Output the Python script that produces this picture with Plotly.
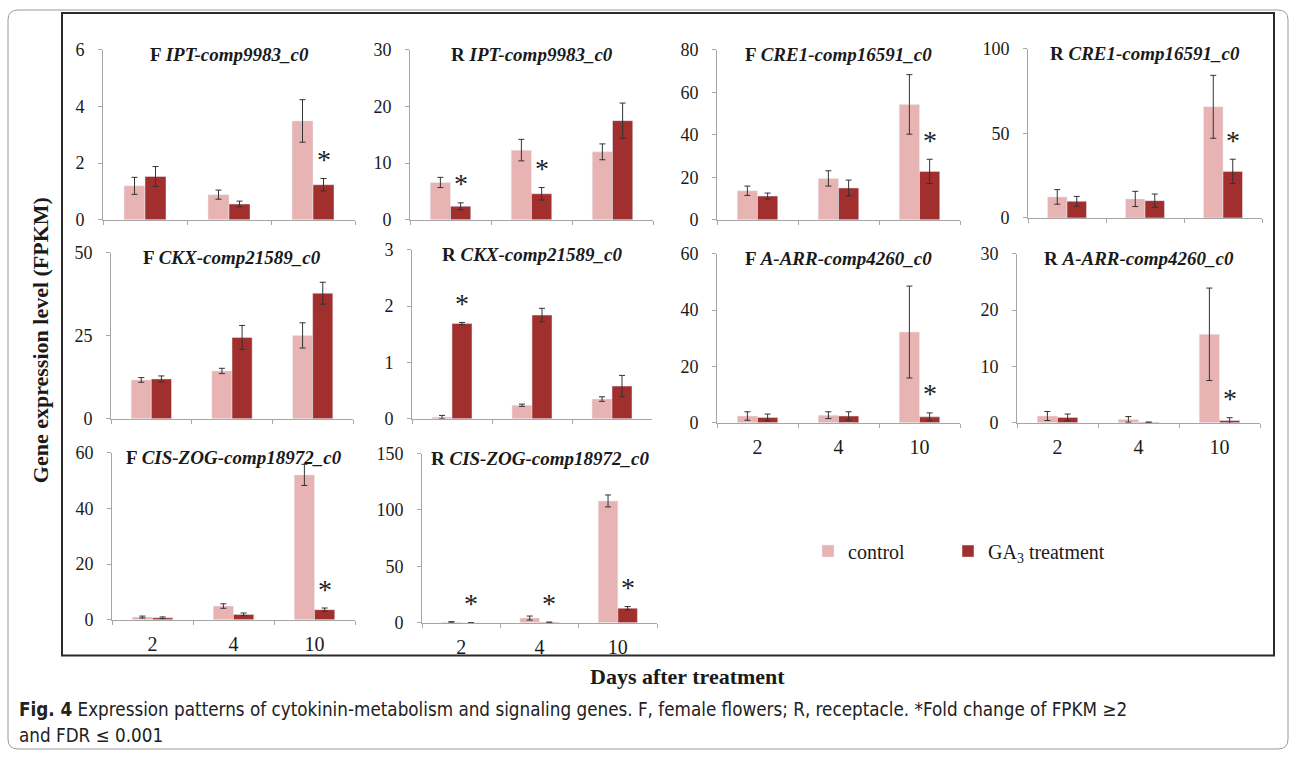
import plotly.graph_objects as go

W, H = 1295, 760
SERIF = "Liberation Serif, Times New Roman, serif"

days = ["2", "4", "10"]
series_names = ["control", "GA<sub>3</sub> treatment"]

# ---- data (FPKM means, error, significance of GA3 vs control) ----
f_ipt_ctrl = [1.20, 0.89, 3.49]
f_ipt_ctrl_err = [0.30, 0.16, 0.75]
f_ipt_ga3 = [1.53, 0.56, 1.24]
f_ipt_ga3_err = [0.35, 0.10, 0.22]
f_ipt_sig = [0, 0, 1]

r_ipt_ctrl = [6.6, 12.3, 12.0]
r_ipt_ctrl_err = [0.9, 1.9, 1.4]
r_ipt_ga3 = [2.4, 4.6, 17.5]
r_ipt_ga3_err = [0.6, 1.1, 3.1]
r_ipt_sig = [1, 1, 0]

f_cre1_ctrl = [13.7, 19.5, 54.3]
f_cre1_ctrl_err = [2.2, 3.6, 14.0]
f_cre1_ga3 = [11.2, 15.0, 22.8]
f_cre1_ga3_err = [1.4, 3.7, 5.7]
f_cre1_sig = [0, 0, 1]

r_cre1_ctrl = [12.4, 11.2, 65.7]
r_cre1_ctrl_err = [4.3, 4.5, 18.6]
r_cre1_ga3 = [9.8, 10.2, 27.5]
r_cre1_ga3_err = [2.9, 3.9, 7.2]
r_cre1_sig = [0, 0, 1]

f_ckx_ctrl = [11.7, 14.4, 25.1]
f_ckx_ctrl_err = [0.7, 0.8, 3.8]
f_ckx_ga3 = [12.0, 24.5, 37.8]
f_ckx_ga3_err = [0.9, 3.6, 3.3]
f_ckx_sig = [0, 0, 0]

r_ckx_ctrl = [0.03, 0.24, 0.35]
r_ckx_ctrl_err = [0.03, 0.02, 0.04]
r_ckx_ga3 = [1.69, 1.84, 0.58]
r_ckx_ga3_err = [0.02, 0.12, 0.19]
r_ckx_sig = [1, 0, 0]

f_arr_ctrl = [2.4, 2.7, 32.2]
f_arr_ctrl_err = [1.5, 1.2, 16.3]
f_arr_ga3 = [1.9, 2.4, 2.1]
f_arr_ga3_err = [1.2, 1.5, 1.4]
f_arr_sig = [0, 0, 1]

r_arr_ctrl = [1.2, 0.6, 15.7]
r_arr_ctrl_err = [0.8, 0.5, 8.2]
r_arr_ga3 = [0.95, 0.1, 0.4]
r_arr_ga3_err = [0.6, 0.0, 0.5]
r_arr_sig = [0, 0, 1]

f_zog_ctrl = [0.95, 4.9, 52.0]
f_zog_ctrl_err = [0.35, 0.8, 3.8]
f_zog_ga3 = [0.7, 1.9, 3.6]
f_zog_ga3_err = [0.3, 0.5, 0.6]
f_zog_sig = [0, 0, 1]

r_zog_ctrl = [0.6, 4.1, 108.0]
r_zog_ctrl_err = [0.3, 1.8, 5.3]
r_zog_ga3 = [0.05, 0.4, 12.9]
r_zog_ga3_err = [0.0, 0.0, 1.4]
r_zog_sig = [1, 1, 1]

tissues = ["F", "R", "F", "R", "F", "R", "F", "R", "F", "R"]
genes = ["IPT-comp9983_c0", "IPT-comp9983_c0", "CRE1-comp16591_c0", "CRE1-comp16591_c0",
         "CKX-comp21589_c0", "CKX-comp21589_c0", "A-ARR-comp4260_c0", "A-ARR-comp4260_c0",
         "CIS-ZOG-comp18972_c0", "CIS-ZOG-comp18972_c0"]
y_max = [6, 30, 80, 100, 50, 3, 60, 30, 60, 150]
y_dtick = [2, 10, 20, 50, 25, 1, 20, 10, 20, 50]

caption_lines = [
    "<b>Fig. 4</b> Expression patterns of cytokinin-metabolism and signaling genes. "
    "F, female flowers; R, receptacle. *Fold change of FPKM \u22652",
    "and FDR \u2264 0.001",
]

ctrl_means = [f_ipt_ctrl, r_ipt_ctrl, f_cre1_ctrl, r_cre1_ctrl, f_ckx_ctrl, r_ckx_ctrl,
              f_arr_ctrl, r_arr_ctrl, f_zog_ctrl, r_zog_ctrl]
ctrl_errs = [f_ipt_ctrl_err, r_ipt_ctrl_err, f_cre1_ctrl_err, r_cre1_ctrl_err, f_ckx_ctrl_err,
             r_ckx_ctrl_err, f_arr_ctrl_err, r_arr_ctrl_err, f_zog_ctrl_err, r_zog_ctrl_err]
ga3_means = [f_ipt_ga3, r_ipt_ga3, f_cre1_ga3, r_cre1_ga3, f_ckx_ga3, r_ckx_ga3,
             f_arr_ga3, r_arr_ga3, f_zog_ga3, r_zog_ga3]
ga3_errs = [f_ipt_ga3_err, r_ipt_ga3_err, f_cre1_ga3_err, r_cre1_ga3_err, f_ckx_ga3_err,
            r_ckx_ga3_err, f_arr_ga3_err, r_arr_ga3_err, f_zog_ga3_err, r_zog_ga3_err]
sigs = [f_ipt_sig, r_ipt_sig, f_cre1_sig, r_cre1_sig, f_ckx_sig, r_ckx_sig,
        f_arr_sig, r_arr_sig, f_zog_sig, r_zog_sig]

# ---- layout geometry (target pixels): x0, x1, ytop, ybottom ----
boxes = [
    (103, 355, 48, 219), (410, 653, 48, 219), (717, 960, 48, 219), (1028, 1262, 47, 217),
    (111, 353, 252, 419), (412, 652, 249, 419), (717, 960, 253, 423), (1017, 1260, 253, 423),
    (112, 355, 453, 621), (422, 657, 454, 624),
]
show_xlabels = [False, False, False, False, False, False, True, True, True, True]

CTRL_COLOR = "#e8b3b3"
GA3_COLOR = "#a12f2e"
AXIS_COLOR = "#a6a6a6"
TEXT_COLOR = "#1a1a1a"

# the photographed page shows the figure with a small vertical inset; compensate
Y_INSET = 8.0
Y_SCALE = (H - 2 * Y_INSET) / H


def px(x):
    return x / W


def py(y):
    yy = (y - Y_INSET) / Y_SCALE
    return min(1.0, max(0.0, 1 - yy / H))


fig = go.Figure()
annotations = []
layout_axes = {}

for i in range(len(genes)):
    n = "" if i == 0 else str(i + 1)
    xa, ya = "x" + n, "y" + n
    err_style = dict(type="data", thickness=1, width=3, color="#333333")
    fig.add_trace(go.Bar(
        x=days, y=ctrl_means[i], name=series_names[0], marker_color=CTRL_COLOR,
        error_y=dict(array=ctrl_errs[i], **err_style), xaxis=xa, yaxis=ya,
        legend="legend", showlegend=(i == 0)))
    fig.add_trace(go.Bar(
        x=days, y=ga3_means[i], name=series_names[1], marker_color=GA3_COLOR,
        error_y=dict(array=ga3_errs[i], **err_style), xaxis=xa, yaxis=ya,
        legend="legend2", showlegend=(i == 0)))

    x0, x1, yt, yb = boxes[i]
    layout_axes["xaxis" + n] = dict(
        domain=[px(x0), px(x1)], anchor=ya, type="category", range=[-0.5, 2.5],
        showline=True, linecolor=AXIS_COLOR, linewidth=1, ticks="outside",
        tickson="boundaries", ticklen=4, tickcolor=AXIS_COLOR, showgrid=False,
        showticklabels=show_xlabels[i], ticklabelstandoff=6,
        tickfont=dict(family=SERIF, size=20, color=TEXT_COLOR), zeroline=False)
    layout_axes["yaxis" + n] = dict(
        domain=[py(yb), py(yt)], anchor=xa, range=[0, y_max[i]], dtick=y_dtick[i],
        tick0=0, showline=True, linecolor=AXIS_COLOR, linewidth=1, ticks="outside",
        ticklen=4, tickcolor=AXIS_COLOR, showgrid=False, zeroline=False,
        ticklabelstandoff=10, tickfont=dict(family=SERIF, size=18, color=TEXT_COLOR))

    # panel title
    annotations.append(dict(
        xref="paper", yref="paper", x=px((x0 + x1) / 2), y=py(yt + 5), yanchor="middle",
        xanchor="center", showarrow=False,
        text="<b>%s <i>%s</i></b>" % (tissues[i], genes[i]),
        font=dict(family=SERIF, size=19, color=TEXT_COLOR)))

    # significance stars above GA3 bars
    for k, s in enumerate(sigs[i]):
        if s:
            annotations.append(dict(
                xref=xa, yref=ya, x=k + 0.125, y=ga3_means[i][k] + ga3_errs[i][k],
                yanchor="middle", xanchor="center", yshift=19, showarrow=False,
                text="*", font=dict(family=SERIF, size=28, color="#222222")))

# axis titles
annotations.append(dict(
    xref="paper", yref="paper", x=px(40), y=py(340), textangle=-90, showarrow=False,
    xanchor="center", yanchor="middle", text="<b>Gene expression level (FPKM)</b>",
    font=dict(family=SERIF, size=22, color=TEXT_COLOR)))
annotations.append(dict(
    xref="paper", yref="paper", x=px(687), y=py(678), showarrow=False,
    xanchor="center", yanchor="middle", text="<b>Days after treatment</b>",
    font=dict(family=SERIF, size=22, color=TEXT_COLOR)))

# caption (two lines)
for line_text, line_y in zip(caption_lines, [711, 737]):
    annotations.append(dict(
        xref="paper", yref="paper", x=px(17), y=py(line_y), showarrow=False,
        xanchor="left", yanchor="middle", align="left", text=line_text,
        font=dict(family="DejaVu Sans Condensed, Open Sans, sans-serif", size=18.7,
                  color="#222222")))

shapes = [
    # inner frame
    dict(type="rect", xref="paper", yref="paper", x0=px(62), x1=px(1274), y0=py(657),
         y1=py(11), line=dict(color="#2b2b2b", width=2), layer="below"),
    # outer rounded box
    dict(type="path", xref="paper", yref="paper",
         path=("M {a},{b} L {c},{b} Q {d},{b} {d},{e} L {d},{f} Q {d},{g} {c},{g} "
               "L {a},{g} Q {h},{g} {h},{f} L {h},{e} Q {h},{b} {a},{b} Z").format(
             a=px(18), b=py(8), c=px(1278), d=px(1288), e=py(18), f=py(741), g=py(751), h=px(8)),
         line=dict(color="#9a9a9a", width=1), layer="below"),
]

legend_style = dict(orientation="h", xanchor="left", yanchor="middle",
                    font=dict(family=SERIF, size=20, color=TEXT_COLOR),
                    bgcolor="rgba(0,0,0,0)", itemwidth=30)

fig.update_layout(
    width=W, height=H, margin=dict(l=0, r=0, t=0, b=0),
    paper_bgcolor="white", plot_bgcolor="white",
    barmode="group", bargap=0.5, bargroupgap=0,
    annotations=annotations, shapes=shapes,
    legend=dict(x=px(808), y=py(552), **legend_style),
    legend2=dict(x=px(948), y=py(552), **legend_style),
    **layout_axes,
)

fig.write_html("out.html", config={"displayModeBar": False},
               post_script="document.body.style.margin='0px';")
